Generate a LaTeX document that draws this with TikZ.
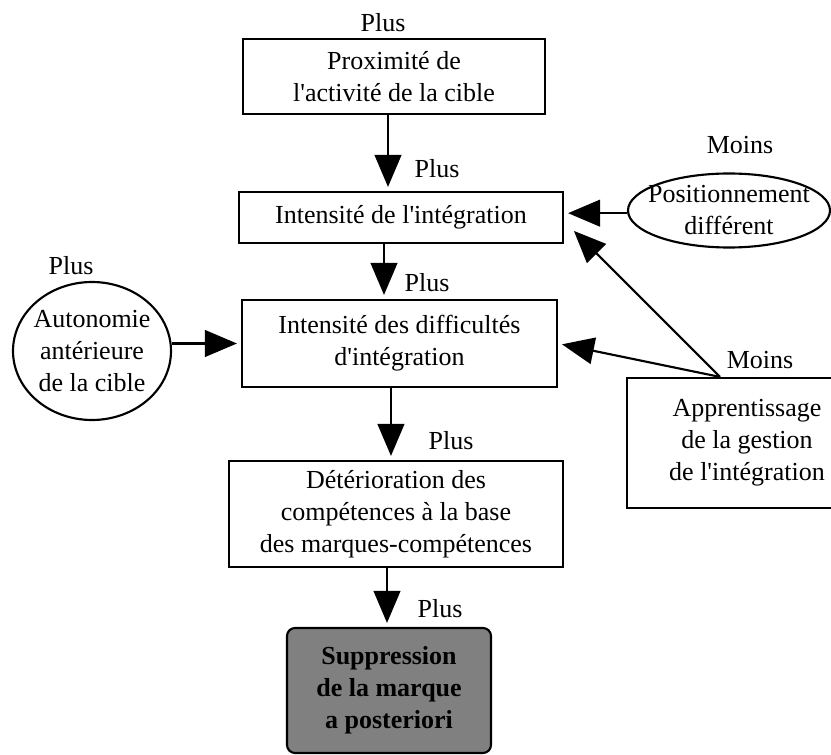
\documentclass[tikz,border=0pt]{standalone}
\usepackage{fontspec}
\setmainfont{Liberation Serif}
\usetikzlibrary{arrows.meta,shapes.geometric}
\newcommand{\labfont}{\fontsize{19.5}{24}\selectfont}
\newcommand{\apos}{\textquotesingle}
\tikzset{
    box/.style={rectangle, draw, line width=1.6pt, align=center, font=\labfont, inner sep=2pt},
    oval/.style={ellipse, draw, line width=1.6pt, inner sep=0pt},
    result/.style={box, rounded corners=6pt, fill=black!50, font=\labfont\bfseries},
    flow/.style={-{Triangle[length=24pt,width=20pt]}, line width=1.6pt, shorten >=3pt},
    sign/.style={font=\labfont, align=center, inner sep=0pt}
}

\begin{document}
\begin{tikzpicture}[x=0.75pt,y=-0.75pt]
\clip (0,0) rectangle (831,755);

% Main chain
\node[box, minimum width=226.5pt, minimum height=56.25pt] (prox) at (394,76.5) {Proximité de\\l\apos activité de la cible};
\node[box, minimum width=243pt, minimum height=38.25pt] (integ) at (401,217.5) {Intensité de l\apos intégration};
\node[box, minimum width=236.25pt, minimum height=65.25pt] (diff) at (399.5,343.5) {Intensité des difficultés\\d\apos intégration};
\node[box, minimum width=250.5pt, minimum height=79.5pt] (deter) at (396,514) {Détérioration des\\compétences à la base\\des marques-compétences};
\node[result, minimum width=153pt, minimum height=93.75pt] (suppr) at (389,690.5) {Suppression\\de la marque\\a posteriori};

% Side factors
\node[oval, minimum width=118.5pt, minimum height=103.5pt, label={[sign]center:Autonomie\\antérieure\\de la cible}] (auton) at (92,351) {};
\node[oval, minimum width=151.5pt, minimum height=55.5pt, label={[sign]center:Positionnement\\différent}] (posit) at (729,210.5) {};
\node[box, minimum width=180pt, minimum height=97.5pt] (appr) at (747,443) {Apprentissage\\de la gestion\\de l\apos intégration};

% Signs
\node[sign] (sTop) at (383,23) {Plus};
\node[sign] (sProx) at (437,169) {Plus};
\node[sign] (sInteg) at (427,283) {Plus};
\node[sign] (sDiff) at (451,441) {Plus};
\node[sign] (sDeter) at (440,609) {Plus};
\node[sign] (sAuton) at (71,266) {Plus};
\node[sign] (sPosit) at (740,145) {Moins};
\node[sign] (sAppr) at (760,360) {Moins};

% Vertical links
\draw[flow] ([xshift=-4.5pt]prox.south) -- ([xshift=-4.5pt]prox.south |- integ.north);
\draw[flow] ([xshift=-12.75pt]integ.south) -- ([xshift=-12.75pt]integ.south |- diff.north);
\draw[flow] ([xshift=-6.4pt]diff.south) -- ([xshift=-6.4pt]diff.south |- deter.north);
\draw[flow] ([xshift=-6.75pt]deter.south) -- ([xshift=-6.75pt]deter.south |- suppr.north);

% Side links
\draw[flow] (auton.east |- diff.west) -- (diff.west);
\draw[flow] ([yshift=-2pt]posit.west) -- ([yshift=-2pt]posit.west -| integ.east);
\draw[flow] ([xshift=-20.25pt]appr.north) -- ([xshift=5.25pt,yshift=12pt]integ.south east);
\draw[flow] ([xshift=-20.25pt]appr.north) -- (diff.east);
\end{tikzpicture}
\end{document}
